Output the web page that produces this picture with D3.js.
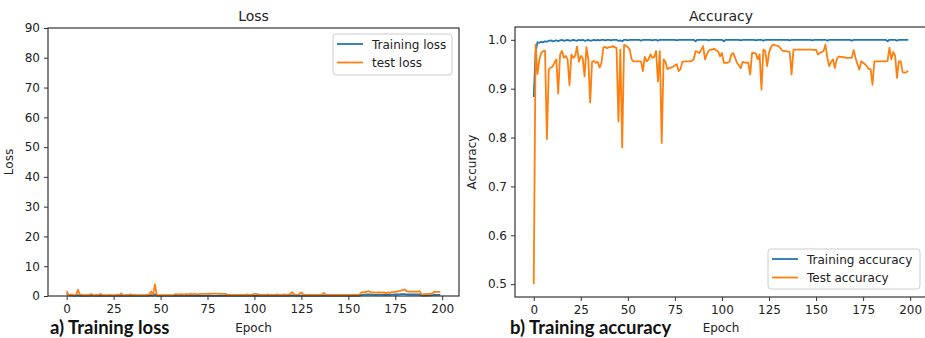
<!DOCTYPE html>
<html>
<head>
<meta charset="utf-8">
<script src="https://cdn.jsdelivr.net/npm/d3@7"></script>
<style>
  body { margin: 0; background: #fff; }
  svg { display: block; }
  text { font-family: "DejaVu Sans", sans-serif; fill: #222; }
  .caption { font-family: Lato, "Open Sans", sans-serif; font-weight: bold; fill: #111; }
</style>
</head>
<body>
<script>
// epochs 0..199
var xTicks = [0, 25, 50, 75, 100, 125, 150, 175, 200];
var lossTicks = [0, 10, 20, 30, 40, 50, 60, 70, 80, 90];
var accTicks = [0.5, 0.6, 0.7, 0.8, 0.9, 1.0];

var trainLoss = [
  0.9, 0.2, 0.1, 0.1, 0.08, 0.07, 0.3, 0.06, 0.05, 0.05,
  0.05, 0.04, 0.04, 0.2, 0.04, 0.03, 0.03, 0.03, 0.15, 0.03,
  0.03, 0.03, 0.03, 0.02, 0.03, 0.02, 0.02, 0.05, 0.02, 0.1,
  0.02, 0.02, 0.02, 0.02, 0.03, 0.02, 0.02, 0.02, 0.02, 0.02,
  0.02, 0.02, 0.02, 0.02, 0.03, 0.3, 0.05, 0.6, 0.02, 0.02,
  0.02, 0.02, 0.02, 0.02, 0.02, 0.02, 0.02, 0.03, 0.05, 0.04,
  0.04, 0.05, 0.04, 0.04, 0.05, 0.04, 0.1, 0.04, 0.1, 0.04,
  0.05, 0.05, 0.06, 0.06, 0.06, 0.06, 0.07, 0.06, 0.07, 0.07,
  0.07, 0.06, 0.07, 0.06, 0.06, 0.05, 0.03, 0.03, 0.03, 0.03,
  0.03, 0.03, 0.03, 0.03, 0.03, 0.03, 0.04, 0.03, 0.03, 0.04,
  0.06, 0.06, 0.04, 0.03, 0.03, 0.03, 0.03, 0.04, 0.03, 0.03,
  0.03, 0.03, 0.04, 0.03, 0.03, 0.03, 0.04, 0.03, 0.04, 0.05,
  0.2, 0.05, 0.03, 0.03, 0.05, 0.15, 0.04, 0.03, 0.03, 0.03,
  0.03, 0.03, 0.03, 0.03, 0.03, 0.03, 0.04, 0.1, 0.03, 0.03,
  0.03, 0.03, 0.03, 0.03, 0.03, 0.03, 0.03, 0.03, 0.03, 0.03,
  0.03, 0.03, 0.03, 0.03, 0.03, 0.03, 0.05, 0.4, 0.45, 0.45,
  0.5, 0.55, 0.45, 0.45, 0.4, 0.4, 0.45, 0.45, 0.4, 0.45,
  0.4, 0.45, 0.4, 0.45, 0.45, 0.5, 0.5, 0.55, 0.6, 0.6,
  0.65, 0.55, 0.5, 0.5, 0.5, 0.5, 0.5, 0.5, 0.55, 0.1,
  0.1, 0.15, 0.15, 0.2, 0.2, 0.3, 0.45, 0.4, 0.4, 0.4
];

var testLoss = [
  1.6, 0.3, 0.5, 0.4, 0.3, 0.4, 2.1, 0.5, 0.4, 0.3,
  0.3, 0.4, 0.3, 0.7, 0.3, 0.3, 0.4, 0.3, 0.8, 0.3,
  0.3, 0.3, 0.3, 0.4, 0.3, 0.3, 0.3, 0.5, 0.3, 0.9,
  0.3, 0.3, 0.4, 0.3, 0.6, 0.3, 0.4, 0.3, 0.3, 0.3,
  0.3, 0.3, 0.3, 0.4, 0.5, 1.5, 0.4, 3.9, 0.3, 0.3,
  0.3, 0.3, 0.3, 0.3, 0.3, 0.3, 0.3, 0.4, 0.6, 0.5,
  0.5, 0.6, 0.5, 0.5, 0.6, 0.5, 0.8, 0.5, 0.8, 0.5,
  0.6, 0.6, 0.7, 0.7, 0.7, 0.7, 0.8, 0.7, 0.8, 0.8,
  0.8, 0.7, 0.8, 0.7, 0.7, 0.6, 0.4, 0.4, 0.4, 0.4,
  0.4, 0.4, 0.4, 0.4, 0.4, 0.4, 0.5, 0.4, 0.4, 0.5,
  0.7, 0.7, 0.5, 0.4, 0.4, 0.4, 0.4, 0.5, 0.4, 0.4,
  0.4, 0.4, 0.5, 0.4, 0.4, 0.4, 0.5, 0.4, 0.5, 0.6,
  1.3, 0.6, 0.4, 0.4, 0.6, 1.2, 0.5, 0.4, 0.4, 0.4,
  0.4, 0.4, 0.4, 0.4, 0.4, 0.4, 0.5, 1.0, 0.4, 0.4,
  0.4, 0.4, 0.4, 0.4, 0.4, 0.4, 0.4, 0.4, 0.4, 0.4,
  0.4, 0.4, 0.4, 0.4, 0.4, 0.4, 0.5, 1.2, 1.3, 1.3,
  1.5, 1.6, 1.2, 1.2, 1.1, 1.1, 1.2, 1.2, 1.1, 1.2,
  1.0, 1.2, 1.0, 1.3, 1.3, 1.4, 1.5, 1.6, 1.8, 2.0,
  2.2, 1.6, 1.5, 1.5, 1.5, 1.5, 1.5, 1.5, 1.6, 0.5,
  0.5, 0.6, 0.6, 0.7, 0.7, 1.0, 1.5, 1.4, 1.4, 1.4
];

var trainAcc = [
  0.883, 0.975, 0.995, 0.994, 0.996, 0.995, 0.997, 0.996, 0.998, 0.999,
  0.997, 0.998, 0.999, 0.997, 0.999, 1.0, 0.998, 0.999, 1.0, 0.998,
  0.999, 1.0, 0.999, 0.998, 1.0, 0.999, 1.0, 0.998, 0.999, 1.0,
  0.998, 0.999, 1.0, 0.999, 1.0, 0.999, 1.0, 1.0, 0.999, 1.0,
  1.0, 0.999, 1.0, 1.0, 1.0, 0.998, 0.999, 0.997, 1.0, 1.0,
  0.999, 1.0, 1.0, 1.0, 1.0, 1.0, 1.0, 0.998, 1.0, 1.0,
  1.0, 1.0, 1.0, 0.999, 1.0, 1.0, 0.998, 1.0, 1.0, 1.0,
  1.0, 1.0, 1.0, 1.0, 1.0, 1.0, 0.999, 1.0, 1.0, 1.0,
  1.0, 1.0, 1.0, 1.0, 1.0, 1.0, 0.997, 1.0, 1.0, 1.0,
  1.0, 1.0, 1.0, 0.999, 1.0, 1.0, 1.0, 1.0, 1.0, 1.0,
  1.0, 0.997, 1.0, 1.0, 1.0, 1.0, 1.0, 1.0, 1.0, 1.0,
  0.999, 1.0, 1.0, 1.0, 1.0, 1.0, 1.0, 1.0, 0.999, 1.0,
  1.0, 1.0, 0.998, 1.0, 1.0, 1.0, 1.0, 1.0, 1.0, 1.0,
  1.0, 1.0, 1.0, 1.0, 1.0, 1.0, 0.999, 1.0, 1.0, 1.0,
  1.0, 1.0, 1.0, 1.0, 1.0, 1.0, 1.0, 1.0, 0.999, 1.0,
  1.0, 1.0, 1.0, 1.0, 1.0, 1.0, 0.998, 1.0, 1.0, 1.0,
  1.0, 1.0, 1.0, 1.0, 1.0, 1.0, 1.0, 1.0, 1.0, 0.998,
  1.0, 1.0, 1.0, 1.0, 1.0, 1.0, 1.0, 1.0, 1.0, 1.0,
  1.0, 1.0, 1.0, 1.0, 1.0, 1.0, 1.0, 1.0, 0.997, 1.0,
  1.0, 1.0, 1.0, 0.998, 1.0, 1.0, 1.0, 1.0, 1.0, 1.0
];

var testAcc = [
  0.50, 0.99, 0.93, 0.96, 0.973, 0.977, 0.978, 0.797, 0.94, 0.943,
  0.945, 0.953, 0.96, 0.89, 0.97, 0.977, 0.963, 0.967, 0.96, 0.907,
  0.97, 0.963, 0.967, 0.986, 0.955, 0.967, 0.963, 0.925, 0.985, 0.96,
  0.872, 0.955, 0.957, 0.953, 0.955, 0.943, 0.953, 0.985, 0.985, 0.983,
  0.985, 0.985, 0.987, 0.985, 0.983, 0.833, 0.98, 0.78, 0.99, 0.988,
  0.985, 0.98, 0.96, 0.956, 0.956, 0.956, 0.956, 0.956, 0.936, 0.965,
  0.956, 0.96, 0.97, 0.963, 0.965, 0.977, 0.915, 0.977, 0.789, 0.96,
  0.955, 0.94, 0.942, 0.943, 0.945, 0.948, 0.95, 0.936, 0.94, 0.955,
  0.956, 0.956, 0.956, 0.956, 0.957, 0.96, 0.977, 0.975, 0.973, 0.98,
  0.987, 0.96, 0.97, 0.978, 0.98, 0.98, 0.982, 0.978, 0.976, 0.966,
  0.973, 0.953, 0.953, 0.953, 0.955, 0.97, 0.973, 0.963, 0.953, 0.948,
  0.942, 0.955, 0.954, 0.953, 0.953, 0.929, 0.973, 0.973, 0.972, 0.96,
  0.97, 0.898, 0.98, 0.977, 0.946, 0.973, 0.985, 0.99, 0.989, 0.988,
  0.987, 0.983, 0.978, 0.977, 0.977, 0.976, 0.975, 0.929, 0.98, 0.98,
  0.98, 0.98, 0.98, 0.98, 0.98, 0.98, 0.98, 0.98, 0.98, 0.979,
  0.98, 0.97, 0.973, 0.975, 0.977, 0.99, 0.963, 0.946, 0.955, 0.96,
  0.942, 0.96, 0.966, 0.965, 0.965, 0.964, 0.963, 0.963, 0.963, 0.963,
  0.979, 0.963, 0.95, 0.939, 0.956, 0.953, 0.95, 0.946, 0.94, 0.94,
  0.908, 0.956, 0.956, 0.956, 0.956, 0.956, 0.956, 0.956, 0.957, 0.984,
  0.96, 0.975, 0.968, 0.922, 0.956, 0.956, 0.934, 0.933, 0.934, 0.936
];

var blue = "#1f77b4", orange = "#ff7f0e";

var svg = d3.select("body").append("svg")
  .attr("width", 925)
  .attr("height", 338);

function panel(o) {
  var x = d3.scaleLinear().domain([-9.95, 208.95]).range([o.left, o.right]);
  var y = d3.scaleLinear().domain(o.yDomain).range([o.bottom, o.top]);
  var g = svg.append("g");

  var line = d3.line()
    .x(function(d, i) { return x(i); })
    .y(function(d) { return y(d); });

  o.series.forEach(function(s) {
    g.append("path")
      .datum(s.values)
      .attr("fill", "none")
      .attr("stroke", s.color)
      .attr("stroke-width", 1.8)
      .attr("stroke-linejoin", "round")
      .attr("d", line);
  });

  var xAxis = g.append("g")
    .attr("transform", "translate(0," + o.bottom + ")")
    .call(d3.axisBottom(x).tickValues(xTicks).tickSize(4).tickPadding(4));
  var yAxis = g.append("g")
    .attr("transform", "translate(" + o.left + ",0)")
    .call(d3.axisLeft(y).tickValues(o.yTicks).tickFormat(o.fmt).tickSize(4).tickPadding(4));
  [xAxis, yAxis].forEach(function(a) {
    a.select(".domain").remove();
    a.selectAll("line").attr("stroke", "#333");
    a.selectAll("text").style("font-size", "12px").attr("fill", "#222");
  });

  // frame
  g.append("rect")
    .attr("x", o.left).attr("y", o.top)
    .attr("width", o.right - o.left).attr("height", o.bottom - o.top)
    .attr("fill", "none").attr("stroke", "#333").attr("stroke-width", 1.2);

  var cx = (o.left + o.right) / 2;
  g.append("text").attr("x", cx).attr("y", 21).attr("text-anchor", "middle")
    .style("font-size", "14px").text(o.title);
  g.append("text").attr("x", cx).attr("y", 332).attr("text-anchor", "middle")
    .style("font-size", "12px").text("Epoch");
  g.append("text")
    .attr("transform", "translate(" + o.yLabelX + "," + ((o.top + o.bottom) / 2) + ") rotate(-90)")
    .attr("text-anchor", "middle")
    .style("font-size", "12px").text(o.yLabel);

  g.append("text").attr("class", "caption")
    .attr("x", o.capX).attr("y", 334)
    .style("font-size", "18.5px").text(o.caption);

  // legend
  var L = o.legend;
  g.append("rect")
    .attr("x", L.x).attr("y", L.y).attr("width", L.w).attr("height", L.h)
    .attr("rx", 3).attr("fill", "#fff").attr("fill-opacity", 0.8)
    .attr("stroke", "#ccc");
  o.series.forEach(function(s, i) {
    var ly = L.y + 10 + i * 18.5;
    g.append("line")
      .attr("x1", L.x + 4).attr("x2", L.x + 30)
      .attr("y1", ly).attr("y2", ly)
      .attr("stroke", s.color).attr("stroke-width", 1.8);
    g.append("text").attr("x", L.x + 39).attr("y", ly + 4.5)
      .style("font-size", "12px").text(s.name);
  });
}

panel({
  left: 48, right: 459, top: 28, bottom: 296,
  yDomain: [0, 90], yTicks: lossTicks, fmt: d3.format("d"),
  title: "Loss", yLabel: "Loss", yLabelX: 13,
  caption: "a) Training loss", capX: 50,
  legend: { x: 333, y: 34, w: 119, h: 41 },
  series: [
    { name: "Training loss", values: trainLoss, color: blue },
    { name: "test loss", values: testLoss, color: orange }
  ]
});

panel({
  left: 515, right: 927, top: 27, bottom: 297,
  yDomain: [0.4737, 1.0262], yTicks: accTicks, fmt: d3.format(".1f"),
  title: "Accuracy", yLabel: "Accuracy", yLabelX: 476,
  caption: "b) Training accuracy", capX: 510,
  legend: { x: 768, y: 249, w: 152, h: 40 },
  series: [
    { name: "Training accuracy", values: trainAcc, color: blue },
    { name: "Test accuracy", values: testAcc, color: orange }
  ]
});
</script>
</body>
</html>
